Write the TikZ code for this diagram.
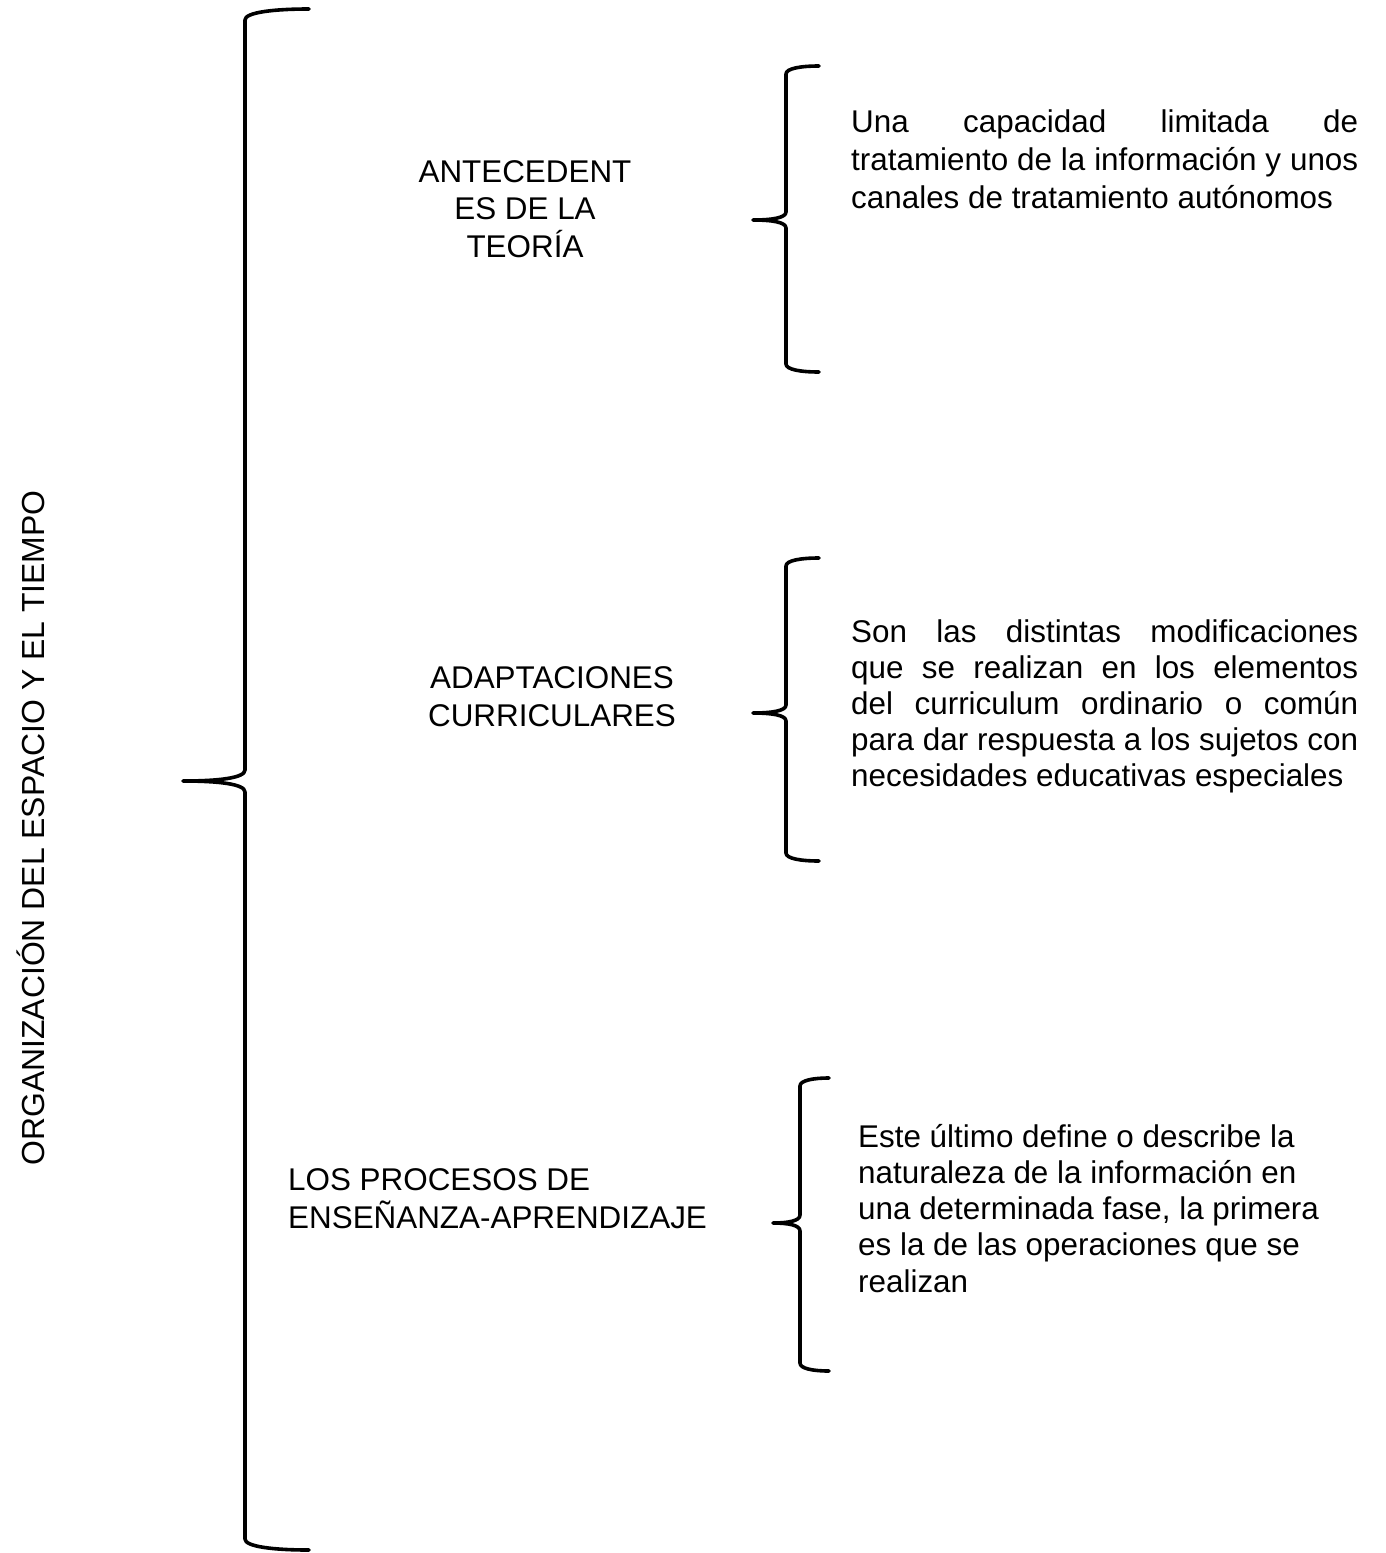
\documentclass[tikz,border=0pt]{standalone}
\usepackage{fontspec}
\setmainfont{Liberation Sans}
\newcommand\bracedraw[7]{% #1 xv, #2 xe, #3 xt, #4 yt, #5 ym, #6 yb, #7 hook
\draw[bracestyle] (#2,#4) .. controls ({#1+0.45*(#2-#1)},#4) and (#1,{#4+0.3*#7}) .. (#1,{#4+#7})
 -- (#1,{#5-#7}) .. controls (#1,{#5-0.25*#7}) and ({#1-0.45*(#1-#3)},#5) .. (#3,#5)
 .. controls ({#1-0.45*(#1-#3)},#5) and (#1,{#5+0.25*#7}) .. (#1,{#5+#7})
 -- (#1,{#6-#7}) .. controls (#1,{#6-0.3*#7}) and ({#1+0.45*(#2-#1)},#6) .. (#2,#6);}
\begin{document}
\begin{tikzpicture}[x=1pt,y=-1pt,
  bracestyle/.style={line width=3.6pt,line cap=round,line join=round},
  lbl/.style={inner sep=0pt,font=\fontsize{31.4}{37.5}\selectfont},
  desc/.style={inner sep=0pt,font=\fontsize{31.4}{36.2}\selectfont,text width=507pt,align=justify}]
\useasboundingbox (0,0) rectangle (1385,1553);
% braces
\bracedraw{245}{309}{183}{9}{781}{1550}{11}
\bracedraw{786}{819}{753}{66}{220}{372}{8}
\bracedraw{786}{819}{753}{558}{713}{861}{8}
\bracedraw{800}{829}{773}{1078}{1223}{1371}{8}
% main title
\node[inner sep=0pt,font=\fontsize{31.9}{36}\selectfont,rotate=90] (main) at (31,828) {ORGANIZACIÓN DEL ESPACIO Y EL TIEMPO};
% categories (base anchor = last line)
\node[lbl,align=center,anchor=base] (c1) at (525,257) {ANTECEDENT\\ES DE LA\\TEORÍA};
\node[lbl,align=center,anchor=base] (c2) at (552,726) {ADAPTACIONES\\CURRICULARES};
\node[lbl,align=left,anchor=base west] (c3) at (288,1228) {LOS PROCESOS DE\\ENSEÑANZA-APRENDIZAJE};
% descriptions (base anchor = first line)
\node[desc,anchor=base west,font=\fontsize{31.4}{38}\selectfont] (d1) at (851,132) {Una capacidad limitada de\linebreak tratamiento de la información y unos\linebreak canales de tratamiento autónomos};
\node[desc,anchor=base west] (d2) at (851,642) {Son las distintas modificaciones\linebreak que se realizan en los elementos\linebreak del curriculum ordinario o común\linebreak para dar respuesta a los sujetos con\linebreak necesidades educativas especiales};
\node[lbl,align=left,anchor=base west,font=\fontsize{31.4}{36.2}\selectfont] (d3) at (858,1292) {Este último define o describe la\\naturaleza de la información en\\una determinada fase, la primera\\es la de las operaciones que se\\realizan};
\end{tikzpicture}
\end{document}
